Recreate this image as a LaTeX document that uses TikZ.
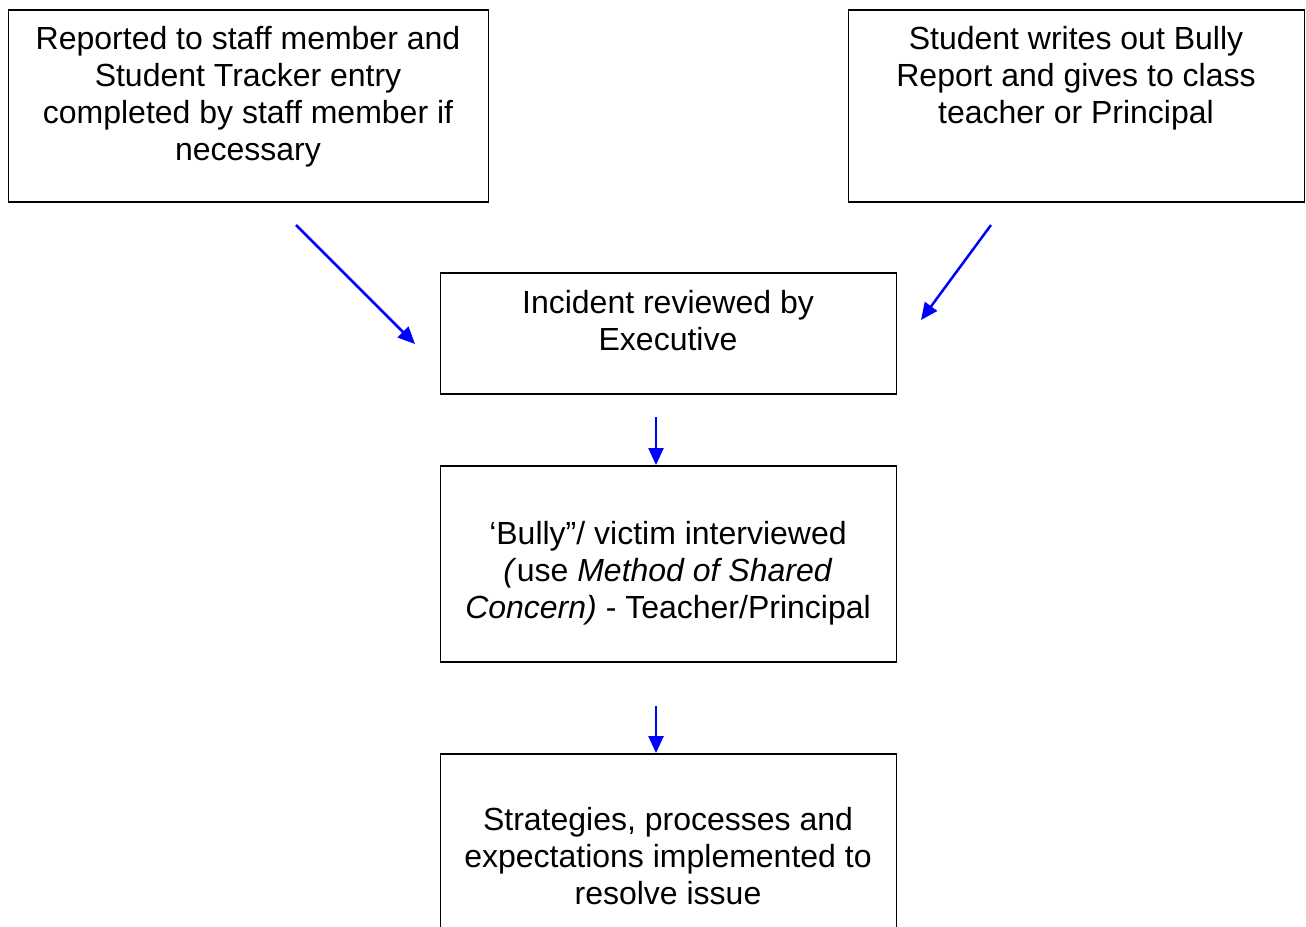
\documentclass[tikz,border=0pt]{standalone}
\usepackage{fontspec}
\setmainfont{Liberation Sans}
\usetikzlibrary{arrows.meta}
\begin{document}
\begin{tikzpicture}[x=1pt,y=-1pt,
  box/.style={draw=black,line width=1.7pt,anchor=north west,inner sep=0pt,rectangle},
  txt/.style={anchor=north,inner sep=0pt,align=center,font=\fontsize{32}{37}\selectfont},
  conn/.style={draw={rgb,255:red,0;green,0;blue,255},line width=2.5pt,-{Triangle[length=17pt,width=15pt]}}]
\useasboundingbox (0,0) rectangle (1306,926);
\fill[white] (0,0) rectangle (1306,926);
\node[box,minimum width=480pt,minimum height=192pt] (b1) at (7.5,9) {};
\node[box,minimum width=456pt,minimum height=192pt] (b2) at (847.5,9) {};
\node[box,minimum width=456pt,minimum height=121pt] (b3) at (439.5,272) {};
\node[box,minimum width=456pt,minimum height=196pt] (b4) at (439.5,465) {};
\node[box,minimum width=456pt,minimum height=260pt] (b5) at (439.5,753) {};
\node[txt] (t1) at (248,23.1) {\strut Reported to staff member and\\Student Tracker entry\\completed by staff member if\\necessary};
\node[txt] (t2) at (1076,23.1) {\strut Student writes out Bully\\Report and gives to class\\teacher or Principal};
\node[txt] (t3) at (668,287.1) {\strut Incident reviewed by\\Executive};
\node[txt] (t4) at (668,518.1) {\strut ‘Bully”/ victim interviewed\\ \textit{(}use \textit{Method of Shared}\\\textit{Concern)} - Teacher/Principal};
\node[txt] (t5) at (668,804.1) {\strut Strategies, processes and\\expectations implemented to\\resolve issue};
\coordinate (a1s) at (296,225);
\coordinate (a1e) at (415,344);
\coordinate (a2s) at (991,225);
\coordinate (a2e) at (921,320);
\coordinate (a3s) at (656,417);
\coordinate (a3e) at (656,465);
\coordinate (a4s) at (656,706);
\coordinate (a4e) at (656,753);
\draw[conn] (a1s) -- (a1e);
\draw[conn] (a2s) -- (a2e);
\draw[conn] (a3s) -- (a3e);
\draw[conn] (a4s) -- (a4e);
\end{tikzpicture}
\end{document}
